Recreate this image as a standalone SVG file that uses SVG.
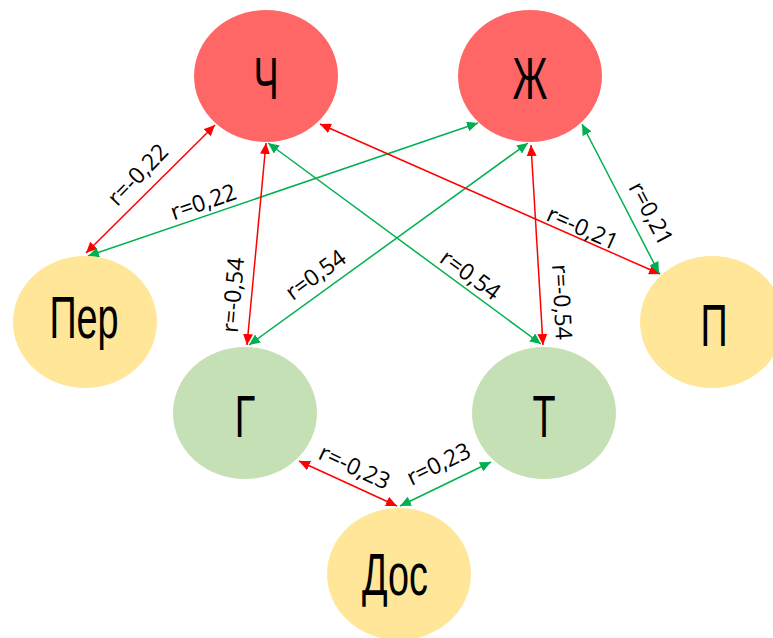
<svg xmlns="http://www.w3.org/2000/svg" width="773" height="638" viewBox="0 0 773 638">
<style>
.red{fill:#FF6666}
.grn{fill:#C5E0B4}
.yel{fill:#FFE699}
.nt{font-family:"Liberation Sans",Arial,sans-serif;font-size:60px;fill:#000;text-anchor:middle}
.el{font-family:"Open Sans","DejaVu Sans",sans-serif;font-size:23px;fill:#000;text-anchor:middle;dominant-baseline:central}
.lr{stroke:#FF0000;stroke-width:1.5;fill:none;marker-start:url(#ar);marker-end:url(#ar)}
.lg{stroke:#00B050;stroke-width:1.5;fill:none;marker-start:url(#ag);marker-end:url(#ag)}
</style>
<defs>
<marker id="ar" markerUnits="userSpaceOnUse" markerWidth="12" markerHeight="10" refX="11" refY="5" orient="auto-start-reverse"><path d="M0,0 L11,5 L0,10 Z" fill="#FF0000"/></marker>
<marker id="ag" markerUnits="userSpaceOnUse" markerWidth="12" markerHeight="10" refX="11" refY="5" orient="auto-start-reverse"><path d="M0,0 L11,5 L0,10 Z" fill="#00B050"/></marker>
</defs>
<rect width="773" height="638" fill="#fff"/>
<g id="connectors">
<line class="lr" x1="215" y1="125" x2="86" y2="253"/>
<line class="lg" x1="478" y1="123" x2="88" y2="256"/>
<line class="lr" x1="266" y1="143" x2="247" y2="345"/>
<line class="lg" x1="528" y1="143" x2="249" y2="345"/>
<line class="lg" x1="268" y1="143" x2="541" y2="344"/>
<line class="lr" x1="320" y1="124" x2="660" y2="274"/>
<line class="lr" x1="531" y1="145" x2="543" y2="345"/>
<line class="lg" x1="582" y1="124" x2="659" y2="273"/>
<line class="lr" x1="299" y1="461" x2="397" y2="506"/>
<line class="lg" x1="491" y1="462" x2="400" y2="506"/>
<text class="el" transform="translate(137,174) rotate(-46)">r=-0,22</text>
<text class="el" transform="translate(203,201) rotate(-19)">r=0,22</text>
<text class="el" transform="translate(232,295) rotate(-85)">r=-0,54</text>
<text class="el" transform="translate(315,274) rotate(-36)">r=0,54</text>
<text class="el" transform="translate(471,274) rotate(36)">r=0,54</text>
<text class="el" transform="translate(583,227) rotate(24)">r=-0,21</text>
<text class="el" transform="translate(563,302) rotate(87)">r=-0,54</text>
<text class="el" transform="translate(652,213) rotate(62)">r=0,21</text>
<text class="el" transform="translate(355,466) rotate(25)">r=-0,23</text>
<text class="el" transform="translate(438,463) rotate(-26)">r=0,23</text>
</g>
<g id="node-ch"><ellipse class="red" cx="266" cy="76" rx="72" ry="66"/><text class="nt" transform="translate(266,99) scale(0.63,1)">Ч</text></g>
<g id="node-zh"><ellipse class="red" cx="530" cy="76" rx="72" ry="66"/><text class="nt" transform="translate(530,99) scale(0.63,1)">Ж</text></g>
<g id="node-per"><ellipse class="yel" cx="85" cy="322" rx="72" ry="66"/><text class="nt" transform="translate(84,338) scale(0.63,1)">Пер</text></g>
<g id="node-p"><ellipse class="yel" cx="712" cy="322" rx="72" ry="66"/><text class="nt" transform="translate(714,346) scale(0.63,1)">П</text></g>
<g id="node-g"><ellipse class="grn" cx="245" cy="413" rx="72" ry="66"/><text class="nt" transform="translate(245,437) scale(0.63,1)">Г</text></g>
<g id="node-t"><ellipse class="grn" cx="544" cy="413" rx="72" ry="66"/><text class="nt" transform="translate(544,437) scale(0.63,1)">Т</text></g>
<g id="node-dos"><ellipse class="yel" cx="399" cy="574" rx="72" ry="66"/><text class="nt" transform="translate(395,595) scale(0.63,1)">Дос</text></g>
</svg>
